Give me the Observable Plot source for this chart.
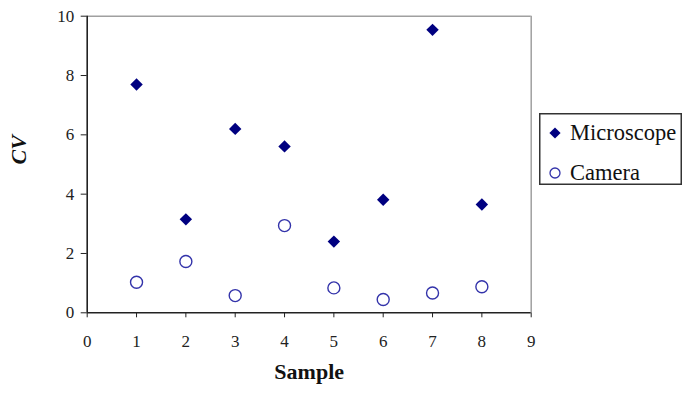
<!DOCTYPE html>
<html>
<head>
<meta charset="utf-8">
<script src="https://cdn.jsdelivr.net/npm/d3@7"></script>
<script src="https://cdn.jsdelivr.net/npm/@observablehq/plot@0.6"></script>
<style>
  html, body { margin: 0; padding: 0; background: #fff; }
  #wrap { position: relative; width: 687px; height: 393px; }
  #legend { position: absolute; left: 539px; top: 113px; }
</style>
</head>
<body>
<div id="wrap"></div>
<script>
const samples = [1, 2, 3, 4, 5, 6, 7, 8];
const microscope = [7.70, 3.15, 6.20, 5.61, 2.40, 3.81, 9.54, 3.65];
const camera = [1.03, 1.73, 0.58, 2.94, 0.84, 0.45, 0.67, 0.88];
const xTicks = [0, 1, 2, 3, 4, 5, 6, 7, 8, 9];
const yTicks = [0, 2, 4, 6, 8, 10];
const seriesNames = ["Microscope", "Camera"];
const xLabel = "Sample";
const yLabel = "CV";

const micData = samples.map((s, i) => ({sample: s, value: microscope[i]}));
const camData = samples.map((s, i) => ({sample: s, value: camera[i]}));

const NAVY = "#000080";
const CAM = "#3333aa";

const chart = Plot.plot({
  width: 687,
  height: 393,
  marginLeft: 86.7,
  marginTop: 15.7,
  marginRight: 156.3,
  marginBottom: 80.7,
  style: {fontFamily: "'Liberation Serif', 'Times New Roman', serif", background: "white", color: "#222"},
  x: {domain: [d3.min(xTicks), d3.max(xTicks)], label: null},
  y: {domain: [d3.min(yTicks), d3.max(yTicks)], label: null},
  marks: [
    Plot.ruleY([d3.max(yTicks)], {stroke: "#a0a0a0", strokeWidth: 1.5}),
    Plot.ruleX([d3.max(xTicks)], {stroke: "#a0a0a0", strokeWidth: 1.5}),
    Plot.axisY({ticks: yTicks, tickSize: 6, tickPadding: 7, fontSize: 17, label: null, stroke: "#222"}),
    Plot.axisX({ticks: xTicks, tickSize: 5, tickPadding: 17, fontSize: 17, label: null, stroke: "#222"}),
    Plot.ruleX([d3.min(xTicks)], {stroke: "#222", strokeWidth: 1.6}),
    Plot.ruleY([d3.min(yTicks)], {stroke: "#222", strokeWidth: 1.6}),
    Plot.dot(camData, {x: "sample", y: "value", r: 6, stroke: CAM, strokeWidth: 1.4, fill: "none"}),
    Plot.dot(micData, {x: "sample", y: "value", symbol: "diamond2", r: 5.6, fill: NAVY, stroke: "none"}),
    Plot.text([xLabel], {frameAnchor: "bottom", dy: 66, fontSize: 22, fontWeight: "bold", fill: "#111"}),
    Plot.text([yLabel], {frameAnchor: "left", dx: -68, rotate: -90, fontSize: 22, fontWeight: "bold", fontStyle: "italic", fill: "#111"})
  ]
});

const wrap = document.getElementById("wrap");
wrap.appendChild(chart);

// Legend
const lw = 143, lh = 72;
const legend = d3.create("svg")
  .attr("id", "legend")
  .attr("width", lw)
  .attr("height", lh)
  .style("font-family", "'Liberation Serif', 'Times New Roman', serif")
  .style("font-size", "22.5px");
legend.append("rect")
  .attr("x", 0.75).attr("y", 0.75)
  .attr("width", lw - 1.5).attr("height", lh - 1.5)
  .attr("fill", "white").attr("stroke", "#333").attr("stroke-width", 1.5);
const rowY = [20, 60];
seriesNames.forEach((name, i) => {
  const g = legend.append("g").attr("transform", `translate(16,${rowY[i]})`);
  if (i === 0) {
    g.append("path").attr("d", d3.symbol(d3.symbolDiamond2, 80)()).attr("fill", NAVY);
  } else {
    g.append("circle").attr("r", 5).attr("fill", "none").attr("stroke", CAM).attr("stroke-width", 1.3);
  }
  legend.append("text")
    .attr("x", 31).attr("y", rowY[i] + 6.8)
    .attr("fill", "#111")
    .text(name);
});
wrap.appendChild(legend.node());
</script>
</body>
</html>
